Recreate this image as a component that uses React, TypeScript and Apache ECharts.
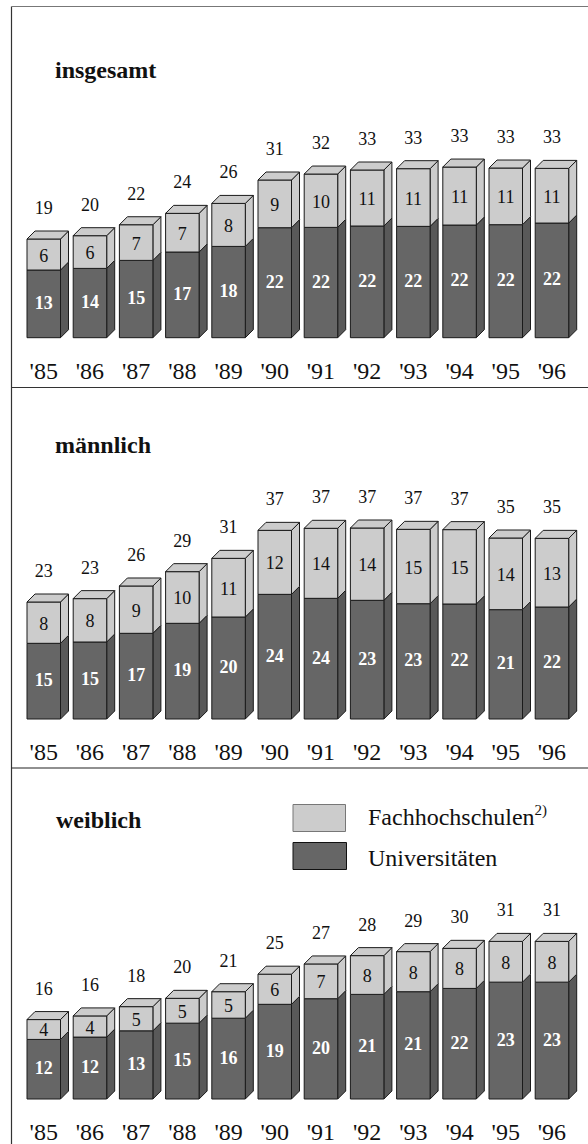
import React, { useEffect, useRef } from "react";
import * as echarts from "echarts";

const years = ["'85", "'86", "'87", "'88", "'89", "'90", "'91", "'92", "'93", "'94", "'95", "'96"];

const uniAll = [13.27, 13.59, 15.16, 16.8, 17.9, 21.57, 21.63, 21.9, 21.83, 22.09, 22.16, 22.48];
const fhAll = [6.08, 6.41, 6.99, 7.58, 8.43, 9.35, 10.46, 10.98, 11.31, 11.37, 11.11, 10.72];
const uniAllLabels = [13, 14, 15, 17, 18, 22, 22, 22, 22, 22, 22, 22];
const fhAllLabels = [6, 6, 7, 7, 8, 9, 10, 11, 11, 11, 11, 11];
const totalAllLabels = [19, 20, 22, 24, 26, 31, 32, 33, 33, 33, 33, 33];

const uniMale = [14.84, 15.1, 16.8, 18.76, 20, 24.44, 23.66, 23.27, 22.61, 22.55, 21.44, 21.96];
const fhMale = [8.1, 8.5, 9.28, 10.13, 11.5, 12.55, 13.73, 14.18, 14.58, 14.58, 14.05, 13.46];
const uniMaleLabels = [15, 15, 17, 19, 20, 24, 24, 23, 23, 22, 21, 22];
const fhMaleLabels = [8, 8, 9, 10, 11, 12, 14, 14, 15, 15, 14, 13];
const totalMaleLabels = [23, 23, 26, 29, 31, 37, 37, 37, 37, 37, 35, 35];

const uniFemale = [11.76, 12.22, 13.46, 14.97, 15.95, 18.69, 19.8, 20.65, 21.18, 21.83, 23.07, 23.07];
const fhFemale = [3.92, 4.18, 4.77, 4.9, 5.23, 5.95, 6.86, 7.65, 7.91, 7.91, 8.04, 8.04];
const uniFemaleLabels = [12, 12, 13, 15, 16, 19, 20, 21, 21, 22, 23, 23];
const fhFemaleLabels = [4, 4, 5, 5, 5, 6, 7, 8, 8, 8, 8, 8];
const totalFemaleLabels = [16, 16, 18, 20, 21, 25, 27, 28, 29, 30, 31, 31];

const FONT = '"Liberation Serif"';
const LIGHT = "#cccccc";
const DARK = "#666666";
const DARK_SIDE = "#595959";
const EDGE = "#1a1a1a";
const BAR_W = 33.5;
const DEPTH = 8;

function makeRender(kind: "uni" | "fh", segLabels: number[], totals: number[]) {
  return (params: any, api: any) => {
    const i = api.value(0);
    const [cx, y0] = api.coord([i, api.value(1)]);
    const [, y1] = api.coord([i, api.value(2)]);
    const l = cx - BAR_W / 2;
    const r = cx + BAR_W / 2;
    const face = kind === "uni" ? DARK : LIGHT;
    const side = kind === "uni" ? DARK_SIDE : LIGHT;
    const style = { fill: face, stroke: EDGE, lineWidth: 1 };
    const children: any[] = [
      {
        type: "polygon",
        shape: { points: [[r, y0], [r + DEPTH, y0 - DEPTH], [r + DEPTH, y1 - DEPTH], [r, y1]] },
        style: { ...style, fill: side },
      },
      { type: "rect", shape: { x: l, y: y1, width: BAR_W, height: y0 - y1 }, style },
      {
        type: "text",
        style: {
          text: String(segLabels[params.dataIndex]),
          x: cx,
          y: (y0 + y1) / 2 + (kind === "uni" ? -1 : 1),
          align: "center",
          verticalAlign: "middle",
          fill: kind === "uni" ? "#ffffff" : "#111111",
          font: `${kind === "uni" ? "bold " : ""}18px ${FONT}`,
        },
      },
    ];
    if (kind === "fh") {
      children.push(
        {
          type: "polygon",
          shape: { points: [[l, y1], [l + DEPTH, y1 - DEPTH], [r + DEPTH, y1 - DEPTH], [r, y1]] },
          style,
        },
        {
          type: "text",
          style: {
            text: String(totals[params.dataIndex]),
            x: cx,
            y: y1 - 31,
            align: "center",
            verticalAlign: "middle",
            fill: "#111111",
            font: `18px ${FONT}`,
          },
        }
      );
    }
    return { type: "group", children };
  };
}

const panels = [
  { baseline: 337.7, uni: uniAll, fh: fhAll, uniL: uniAllLabels, fhL: fhAllLabels, tot: totalAllLabels },
  { baseline: 719, uni: uniMale, fh: fhMale, uniL: uniMaleLabels, fhL: fhMaleLabels, tot: totalMaleLabels },
  { baseline: 1100.7, uni: uniFemale, fh: fhFemale, uniL: uniFemaleLabels, fhL: fhFemaleLabels, tot: totalFemaleLabels },
];

const lineG = (x1: number, y1: number, x2: number, y2: number, stroke: string) => ({
  type: "line",
  shape: { x1, y1, x2, y2 },
  style: { stroke, lineWidth: 1.2 },
});

const textG = (text: string, x: number, y: number, size: number, bold = false) => ({
  type: "text",
  x,
  y,
  style: {
    text,
    fill: "#111111",
    font: `${bold ? "bold " : ""}${size}px ${FONT}`,
    verticalAlign: "middle",
    align: "left",
  },
});

export default function App() {
  const ref = useRef<HTMLDivElement>(null);
  useEffect(() => {
    const chart = echarts.init(ref.current!, undefined, { renderer: "svg" });
    const grid = panels.map((p) => ({ left: 20.65, width: 554.4, top: p.baseline - 255, height: 255 }));
    const xAxis = panels.map((_, k) => ({
      type: "category",
      gridIndex: k,
      data: years,
      axisLine: { show: false },
      axisTick: { show: false },
      axisLabel: { fontFamily: FONT, fontSize: 24, color: "#111111", margin: 21, interval: 0 },
    }));
    const yAxis = panels.map((_, k) => ({ type: "value", gridIndex: k, min: 0, max: 50, show: false }));
    const series: any[] = [];
    panels.forEach((p, k) => {
      series.push({
        type: "custom",
        name: "Universitäten",
        xAxisIndex: k,
        yAxisIndex: k,
        clip: false,
        silent: true,
        encode: { x: 0, y: [1, 2] },
        data: p.uni.map((v, i) => [i, 0, v]),
        renderItem: makeRender("uni", p.uniL, p.tot),
      });
      series.push({
        type: "custom",
        name: "Fachhochschulen",
        xAxisIndex: k,
        yAxisIndex: k,
        clip: false,
        silent: true,
        encode: { x: 0, y: [1, 2] },
        data: p.fh.map((v, i) => [i, p.uni[i], p.uni[i] + v]),
        renderItem: makeRender("fh", p.fhL, p.tot),
      });
    });
    chart.setOption({
      animation: false,
      backgroundColor: "#ffffff",
      grid,
      xAxis,
      yAxis,
      series,
      graphic: [
        lineG(11.5, 6.5, 11.5, 1144, "#333333"),
        lineG(11.5, 6.5, 588, 6.5, "#777777"),
        lineG(11.5, 387.5, 588, 387.5, "#333333"),
        lineG(11.5, 768, 588, 768, "#222222"),
        textG("insgesamt", 55, 70, 24, true),
        textG("männlich", 55, 445, 24, true),
        textG("weiblich", 56, 820, 24, true),
        {
          type: "rect",
          shape: { x: 293, y: 804.5, width: 52.5, height: 27 },
          style: { fill: LIGHT, stroke: "#777777", lineWidth: 1 },
        },
        {
          type: "rect",
          shape: { x: 293, y: 842.5, width: 53.5, height: 27 },
          style: { fill: DARK, stroke: "#111111", lineWidth: 1 },
        },
        textG("Fachhochschulen", 368, 817, 24),
        textG("2)", 534.5, 810, 15),
        textG("Universitäten", 368, 858, 24),
      ],
    });
    return () => chart.dispose();
  }, []);
  return <div ref={ref} style={{ position: "absolute", left: 0, top: 0, width: 588, height: 1144 }} />;
}
